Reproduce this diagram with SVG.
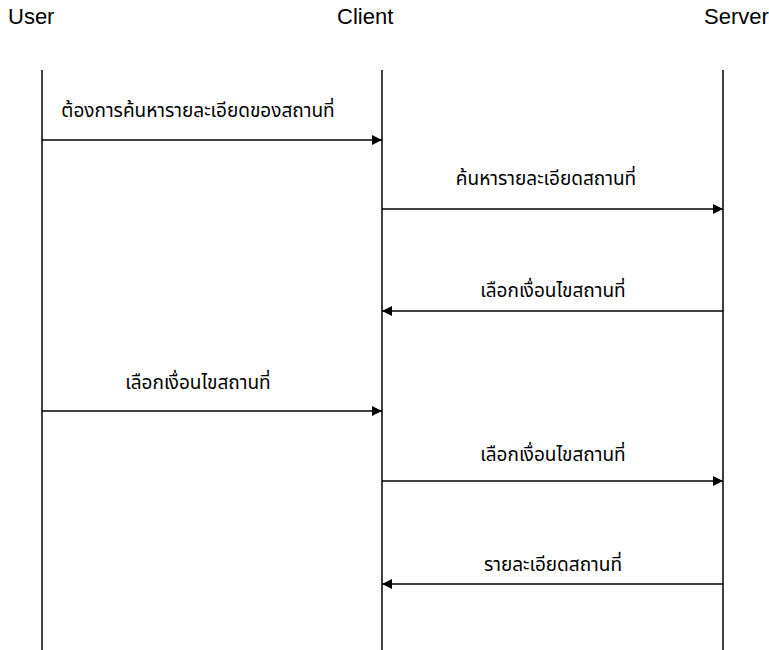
<svg xmlns="http://www.w3.org/2000/svg" width="769" height="650" viewBox="0 0 769 650">
  <style>
    .head { font-family: "Liberation Sans", Arial, sans-serif; font-size: 22px; fill: #000; }
    .msg { font-family: "Noto Sans Thai", "Noto Sans", "Liberation Sans", sans-serif; font-size: 19px; fill: #000; text-anchor: middle; }
    .life { stroke: #000; stroke-width: 1.5; fill: none; }
    .arrow { stroke: #000; stroke-width: 1.5; fill: none; marker-end: url(#head); }
  </style>
  <defs>
    <marker id="head" viewBox="0 0 10 10" refX="10" refY="5" markerWidth="11" markerHeight="10" markerUnits="userSpaceOnUse" orient="auto">
      <path d="M0,0 L10,5 L0,10 Z" fill="#000"/>
    </marker>
  </defs>

  <!-- participants and their lifelines -->
  <g id="user">
    <text class="head" x="8" y="24">User</text>
    <line class="life" x1="42" y1="70" x2="42" y2="650"/>
  </g>
  <g id="client">
    <text class="head" x="337" y="24">Client</text>
    <line class="life" x1="382" y1="70" x2="382" y2="650"/>
  </g>
  <g id="server">
    <text class="head" x="704" y="24">Server</text>
    <line class="life" x1="723" y1="70" x2="723" y2="650"/>
  </g>

  <!-- messages -->
  <g id="connectors">
    <line class="arrow" x1="42" y1="140" x2="382" y2="140"/>
    <text class="msg" x="198" y="117">ต้องการค้นหารายละเอียดของสถานที่</text>

    <line class="arrow" x1="382" y1="209" x2="723" y2="209"/>
    <text class="msg" x="546" y="185">ค้นหารายละเอียดสถานที่</text>

    <line class="arrow" x1="723" y1="311" x2="382" y2="311"/>
    <text class="msg" x="553" y="297">เลือกเงื่อนไขสถานที่</text>

    <line class="arrow" x1="42" y1="411" x2="382" y2="411"/>
    <text class="msg" x="198" y="389">เลือกเงื่อนไขสถานที่</text>

    <line class="arrow" x1="382" y1="481" x2="723" y2="481"/>
    <text class="msg" x="553" y="461">เลือกเงื่อนไขสถานที่</text>

    <line class="arrow" x1="723" y1="584" x2="382" y2="584"/>
    <text class="msg" x="553" y="571">รายละเอียดสถานที่</text>
  </g>
</svg>
